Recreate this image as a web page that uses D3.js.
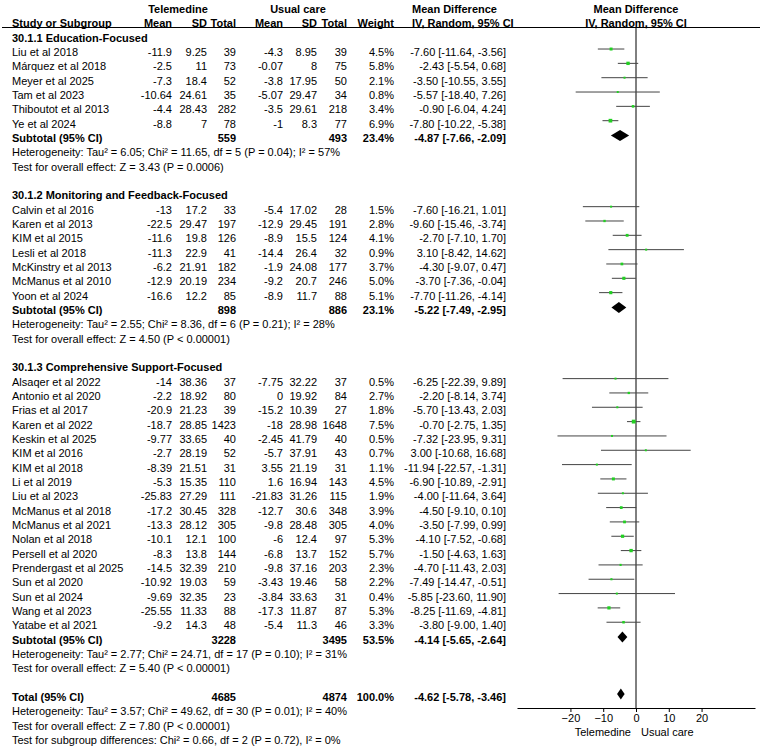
<!DOCTYPE html>
<html>
<head>
<meta charset="utf-8">
<script src="https://cdn.jsdelivr.net/npm/d3@7"></script>
<style>
  body { margin: 0; background: #fff; }
  svg text { font-family: "Liberation Sans", Arial, sans-serif; font-size: 11px; fill: #000; }
  .b { font-weight: bold; }
</style>
</head>
<body>
<svg width="767" height="746"></svg>
<script>
// studies, in plot order
var studyNames = ["Liu et al 2018", "Márquez et al 2018", "Meyer et al 2025", "Tam et al 2023", "Thiboutot et al 2013", "Ye et al 2024",
  "Calvin et al 2016", "Karen et al 2013", "KIM et al 2015", "Lesli et al 2018", "McKinstry et al 2013", "McManus et al 2010", "Yoon et al 2024",
  "Alsaqer et al 2022", "Antonio et al 2020", "Frias et al 2017", "Karen et al 2022", "Keskin et al 2025", "KIM et al 2016", "KIM et al 2018",
  "Li et al 2019", "Liu et al 2023", "McManus et al 2018", "McManus et al 2021", "Nolan et al 2018", "Persell et al 2020",
  "Prendergast et al 2025", "Sun et al 2020", "Sun et al 2024", "Wang et al 2023", "Yatabe et al 2021"]
var studyGroup = [0,0,0,0,0,0, 1,1,1,1,1,1,1, 2,2,2,2,2,2,2,2,2,2,2,2,2,2,2,2,2,2]
var telMean = [-11.9, -2.5, -7.3, -10.64, -4.4, -8.8, -13, -22.5, -11.6, -11.3, -6.2, -12.9, -16.6,
  -14, -2.2, -20.9, -18.7, -9.77, -2.7, -8.39, -5.3, -25.83, -17.2, -13.3, -10.1, -8.3, -14.5, -10.92, -9.69, -25.55, -9.2]
var telSD = [9.25, 11, 18.4, 24.61, 28.43, 7, 17.2, 29.47, 19.8, 22.9, 21.91, 20.19, 12.2,
  38.36, 18.92, 21.23, 28.85, 33.65, 28.19, 21.51, 15.35, 27.29, 30.45, 28.12, 12.1, 13.8, 32.39, 19.03, 32.35, 11.33, 14.3]
var telN = [39, 73, 52, 35, 282, 78, 33, 197, 126, 41, 182, 234, 85,
  37, 80, 39, 1423, 40, 52, 31, 110, 111, 328, 305, 100, 144, 210, 59, 23, 88, 48]
var ucMean = [-4.3, -0.07, -3.8, -5.07, -3.5, -1, -5.4, -12.9, -8.9, -14.4, -1.9, -9.2, -8.9,
  -7.75, 0, -15.2, -18, -2.45, -5.7, 3.55, 1.6, -21.83, -12.7, -9.8, -6, -6.8, -9.8, -3.43, -3.84, -17.3, -5.4]
var ucSD = [8.95, 8, 17.95, 29.47, 29.61, 8.3, 17.02, 29.45, 15.5, 26.4, 24.08, 20.7, 11.7,
  32.22, 19.92, 10.39, 28.98, 41.79, 37.91, 21.19, 16.94, 31.26, 30.6, 28.48, 12.4, 13.7, 37.16, 19.46, 33.63, 11.87, 11.3]
var ucN = [39, 75, 50, 34, 218, 77, 28, 191, 124, 32, 177, 246, 88,
  37, 84, 27, 1648, 40, 43, 31, 143, 115, 348, 305, 97, 152, 203, 58, 31, 87, 46]
var weights = [4.5, 5.8, 2.1, 0.8, 3.4, 6.9, 1.5, 2.8, 4.1, 0.9, 3.7, 5.0, 5.1,
  0.5, 2.7, 1.8, 7.5, 0.5, 0.7, 1.1, 4.5, 1.9, 3.9, 4.0, 5.3, 5.7, 2.3, 2.2, 0.4, 5.3, 3.3]
var md = [-7.60, -2.43, -3.50, -5.57, -0.90, -7.80, -7.60, -9.60, -2.70, 3.10, -4.30, -3.70, -7.70,
  -6.25, -2.20, -5.70, -0.70, -7.32, 3.00, -11.94, -6.90, -4.00, -4.50, -3.50, -4.10, -1.50, -4.70, -7.49, -5.85, -8.25, -3.80]
var ciLow = [-11.64, -5.54, -10.55, -18.40, -6.04, -10.22, -16.21, -15.46, -7.10, -8.42, -9.07, -7.36, -11.26,
  -22.39, -8.14, -13.43, -2.75, -23.95, -10.68, -22.57, -10.89, -11.64, -9.10, -7.99, -7.52, -4.63, -11.43, -14.47, -23.60, -11.69, -9.00]
var ciHigh = [-3.56, 0.68, 3.55, 7.26, 4.24, -5.38, 1.01, -3.74, 1.70, 14.62, 0.47, -0.04, -4.14,
  9.89, 3.74, 2.03, 1.35, 9.31, 16.68, -1.31, -2.91, 3.64, 0.10, 0.99, -0.68, 1.63, 2.03, -0.51, 11.90, -4.81, 1.40]

// subgroups
var groupTitles = ["30.1.1 Education-Focused", "30.1.2 Monitoring and Feedback-Focused", "30.1.3 Comprehensive Support-Focused"]
var subTelN = [559, 898, 3228]
var subUcN = [493, 886, 3495]
var subWeight = [23.4, 23.1, 53.5]
var subMD = [-4.87, -5.22, -4.14]
var subLow = [-7.66, -7.49, -5.65]
var subHigh = [-2.09, -2.95, -2.64]
var subHet = ["Heterogeneity: Tau² = 6.05; Chi² = 11.65, df = 5 (P = 0.04); I² = 57%",
  "Heterogeneity: Tau² = 2.55; Chi² = 8.36, df = 6 (P = 0.21); I² = 28%",
  "Heterogeneity: Tau² = 2.77; Chi² = 24.71, df = 17 (P = 0.10); I² = 31%"]
var subTest = ["Test for overall effect: Z = 3.43 (P = 0.0006)",
  "Test for overall effect: Z = 4.50 (P < 0.00001)",
  "Test for overall effect: Z = 5.40 (P < 0.00001)"]

// overall
var totalN = [4685, 4874]
var totalEffect = [-4.62, -5.78, -3.46]
var totalNotes = ["Heterogeneity: Tau² = 3.57; Chi² = 49.62, df = 30 (P = 0.01); I² = 40%",
  "Test for overall effect: Z = 7.80 (P < 0.00001)",
  "Test for subgroup differences: Chi² = 0.66, df = 2 (P = 0.72), I² = 0%"]

var axisTicks = [-20, -10, 0, 10, 20]
var favourLabels = ["Telemedine", "Usual care"]

var svg = d3.select("svg")

var rowTop = 37.7, rowStep = 14.33
function rowY(i) { return rowTop + i * rowStep }

// column anchors (right edges for numbers)
var col = { name: 12, m1: 172, sd1: 207, n1: 236, m2: 283, sd2: 317, n2: 347, w: 394, ci: 506 }

var x = d3.scaleLinear().domain([-36.3, 36.3]).range([517, 755])

function txt(xp, yp, s, anchor, bold) {
  return svg.append("text")
    .attr("x", xp).attr("y", yp + 4)
    .attr("text-anchor", anchor || "start")
    .attr("class", bold ? "b" : null)
    .text(s)
}
function fmtCI(m, lo, hi) {
  return m.toFixed(2) + " [" + lo.toFixed(2) + ", " + hi.toFixed(2) + "]"
}
function diamond(yc, m, lo, hi) {
  var h = 5.5
  svg.append("path")
    .attr("d", "M" + x(lo) + "," + yc + "L" + x(m) + "," + (yc - h) + "L" + x(hi) + "," + yc + "L" + x(m) + "," + (yc + h) + "Z")
    .attr("fill", "#000")
}

// headers
txt(178, 8.5, "Telemedine", "middle", true)
txt(298, 8.5, "Usual care", "middle", true)
txt(412, 8.5, "Mean Difference", "start", true)
txt(636, 8.5, "Mean Difference", "middle", true)
txt(col.name, 22.5, "Study or Subgroup", "start", true)
txt(col.m1, 22.5, "Mean", "end", true)
txt(col.sd1, 22.5, "SD", "end", true)
txt(col.n1, 22.5, "Total", "end", true)
txt(col.m2, 22.5, "Mean", "end", true)
txt(col.sd2, 22.5, "SD", "end", true)
txt(col.n2, 22.5, "Total", "end", true)
txt(col.w, 22.5, "Weight", "end", true)
txt(412, 22.5, "IV, Random, 95% CI", "start", true)
txt(636, 22.5, "IV, Random, 95% CI", "middle", true)
svg.append("line").attr("x1", 2).attr("x2", 760).attr("y1", 27.5).attr("y2", 27.5)
  .attr("stroke", "#000").attr("stroke-width", 1)

// zero line
svg.append("line").attr("x1", x(0)).attr("x2", x(0)).attr("y1", 27.5).attr("y2", 708)
  .attr("stroke", "#000").attr("stroke-width", 1)

var r = 0
groupTitles.forEach(function(title, g) {
  txt(col.name, rowY(r), title, "start", true)
  r++
  studyNames.forEach(function(name, i) {
    if (studyGroup[i] != g) return
    var y = rowY(r)
    txt(col.name, y, name)
    txt(col.m1, y, String(telMean[i]), "end")
    txt(col.sd1, y, String(telSD[i]), "end")
    txt(col.n1, y, String(telN[i]), "end")
    txt(col.m2, y, String(ucMean[i]), "end")
    txt(col.sd2, y, String(ucSD[i]), "end")
    txt(col.n2, y, String(ucN[i]), "end")
    txt(col.w, y, weights[i].toFixed(1) + "%", "end")
    txt(col.ci, y, fmtCI(md[i], ciLow[i], ciHigh[i]), "end")
    var ym = y - 3
    svg.append("line").attr("x1", x(ciLow[i])).attr("x2", x(ciHigh[i]))
      .attr("y1", ym).attr("y2", ym).attr("stroke", "#444").attr("stroke-width", 1)
    var s = Math.max(2, 1.4 * Math.sqrt(weights[i]))
    svg.append("rect").attr("x", x(md[i]) - s / 2).attr("y", ym - s / 2)
      .attr("width", s).attr("height", s).attr("fill", "#22d022")
    r++
  })
  var ys = rowY(r)
  txt(col.name, ys, "Subtotal (95% CI)", "start", true)
  txt(col.n1, ys, String(subTelN[g]), "end", true)
  txt(col.n2, ys, String(subUcN[g]), "end", true)
  txt(col.w, ys, subWeight[g].toFixed(1) + "%", "end", true)
  txt(col.ci, ys, fmtCI(subMD[g], subLow[g], subHigh[g]), "end", true)
  diamond(ys - 2.5, subMD[g], subLow[g], subHigh[g])
  r++
  txt(col.name, rowY(r), subHet[g]); r++
  txt(col.name, rowY(r), subTest[g]); r++
  r++ // blank row
})

var yt = rowY(r)
txt(col.name, yt, "Total (95% CI)", "start", true)
txt(col.n1, yt, String(totalN[0]), "end", true)
txt(col.n2, yt, String(totalN[1]), "end", true)
txt(col.w, yt, "100.0%", "end", true)
txt(col.ci, yt, fmtCI(totalEffect[0], totalEffect[1], totalEffect[2]), "end", true)
diamond(yt - 3, totalEffect[0], totalEffect[1], totalEffect[2])
r++
totalNotes.forEach(function(n) { txt(col.name, rowY(r), n); r++ })

// axis
var axisG = svg.append("g").attr("transform", "translate(0,708)")
  .call(d3.axisBottom(x).tickValues(axisTicks).tickSize(4).tickSizeOuter(0).tickFormat(d3.format("d")))
axisG.attr("font-family", null).attr("font-size", null)
axisG.select(".domain").attr("stroke", "#000")
axisG.selectAll(".tick line").attr("stroke", "#000")
axisG.selectAll(".tick text").attr("dy", "0.9em").attr("y", 4)

txt(x(0) - 5, 731.5, favourLabels[0], "end")
txt(x(0) + 5, 731.5, favourLabels[1], "start")
</script>
</body>
</html>
